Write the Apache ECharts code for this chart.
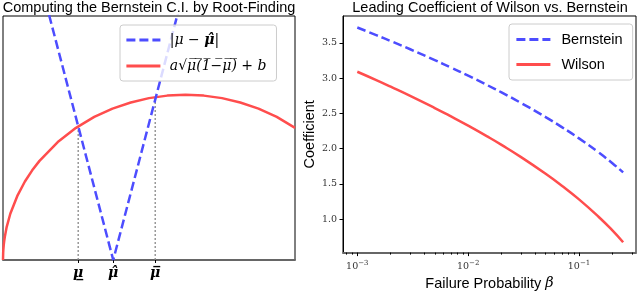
<!DOCTYPE html>
<html><head><meta charset="utf-8">
<script src="https://cdn.jsdelivr.net/npm/echarts@6/dist/echarts.min.js"></script>
<style>html,body{margin:0;padding:0;background:#fff}#c{width:638px;height:296px}</style>
</head><body><div id="c"></div>
<script>
// ---------- Left panel data ----------
const muGrid    = [0, 0.0005, 0.001, 0.002, 0.003, 0.005, 0.01, 0.02, 0.04, 0.06, 0.08, 0.1, 0.15, 0.2, 0.25, 0.3, 0.35, 0.4, 0.45, 0.5, 0.55, 0.6, 0.65, 0.7, 0.75, 0.8];
const rootCurve = [0, 0.0053, 0.0075, 0.0106, 0.0130, 0.0167, 0.0236, 0.0332, 0.0464, 0.0563, 0.0643, 0.0711, 0.0846, 0.0948, 0.1026, 0.1086, 0.1130, 0.1161, 0.1179, 0.1185, 0.1179, 0.1161, 0.1130, 0.1086, 0.1026, 0.0948];
const absMu  = [0, 0.302, 0.8];
const absVal = [0.302, 0, 0.498];
const boundValues  = [0.206, 0.302, 0.417];
const boundLabels  = ['\u03BC\u0332', '\u03BC\u0302', '\u03BC\u0305'];
const boundHeights = [0.0958, 0, 0.1165];

// ---------- Right panel data ----------
const beta      = [0.001, 0.0015, 0.002, 0.003, 0.005, 0.007, 0.01, 0.015, 0.02, 0.03, 0.05, 0.07, 0.1, 0.15, 0.2, 0.25];
const bernstein = [3.717, 3.606, 3.526, 3.409, 3.255, 3.150, 3.035, 2.898, 2.797, 2.648, 2.448, 2.306, 2.146, 1.948, 1.794, 1.665];
const wilson    = [3.090, 2.968, 2.878, 2.748, 2.576, 2.457, 2.326, 2.170, 2.054, 1.881, 1.645, 1.476, 1.282, 1.036, 0.842, 0.674];
const yTicks = [1.0, 1.5, 2.0, 2.5, 3.0, 3.5];
const xMajorExp = [-3, -2, -1];
const xMinorMult = [2, 3, 4, 5, 6, 7, 8, 9];

const BLUE = 'rgb(77,77,255)', RED = 'rgb(255,77,77)';
const SANS = 'Liberation Sans', SERIF = 'DejaVu Serif';
const xMin = -3.129, xMax = -0.486;
const minorTicks = [];
[-4, -3, -2, -1].forEach(e => xMinorMult.forEach(m => {
  const v = Math.log10(m * Math.pow(10, e));
  if (v > xMin && v < xMax) minorTicks.push(v);
}));

const chart = echarts.init(document.getElementById('c'), null, {renderer: 'canvas'});
const sup = {'-3': '\u22123', '-2': '\u22122', '-1': '\u22121'};
const OL = '\u0305';
const sqrtBody = ['\u03BC', '(', '1', '\u2212', '\u03BC', ')'].map(c => c + OL).join('');

chart.setOption({
  animation: false,
  title: [
    {text: 'Computing the Bernstein C.I. by Root-Finding', left: 149, top: 0, padding: 0, textAlign: 'center',
     textStyle: {fontFamily: SANS, fontSize: 14.5, fontWeight: 'normal', color: '#000'}},
    {text: 'Leading Coefficient of Wilson vs. Bernstein', left: 490, top: 0, padding: 0, textAlign: 'center',
     textStyle: {fontFamily: SANS, fontSize: 14.5, fontWeight: 'normal', color: '#000'}}
  ],
  grid: [
    {left: 3, top: 16, width: 292, height: 244, show: true, borderColor: '#000', borderWidth: 1},
    {left: 343, top: 16, width: 293, height: 244, show: true, borderColor: '#000', borderWidth: 1}
  ],
  legend: [
    {orient: 'vertical', left: 120, top: 25, padding: [8, 10, 8, 5], itemWidth: 34, itemHeight: 12, itemGap: 12,
     backgroundColor: 'rgba(255,255,255,0.8)', borderColor: '#ccc', borderWidth: 1, borderRadius: 3,
     itemStyle: {opacity: 0}, lineStyle: {width: 2.8},
     data: ['absdiff', 'root'],
     formatter: n => n === 'absdiff' ? '{i| |\u03BC \u2212 }{b|\u03BC\u0302}{i||}' : '{i| a\u221A' + sqrtBody + ' + b}',
     textStyle: {color: '#000', rich: {
       i: {fontFamily: SERIF, fontStyle: 'italic', fontSize: 14, color: '#000'},
       b: {fontFamily: SERIF, fontStyle: 'italic', fontWeight: 'bold', fontSize: 14, color: '#000'}}}},
    {orient: 'vertical', left: 509, top: 24, padding: [8, 10, 8, 6], itemWidth: 34, itemHeight: 12, itemGap: 10,
     backgroundColor: 'rgba(255,255,255,0.8)', borderColor: '#ccc', borderWidth: 1, borderRadius: 3,
     itemStyle: {opacity: 0}, lineStyle: {width: 2.8},
     data: ['Bernstein', 'Wilson'],
     textStyle: {fontFamily: SANS, fontSize: 14.5, color: '#000', padding: [0, 0, 0, 6]}}
  ],
  xAxis: [
    {gridIndex: 0, type: 'value', min: 0, max: 0.8, splitLine: {show: false},
     axisLine: {onZero: false, lineStyle: {color: '#666', width: 2}},
     axisTick: {customValues: boundValues, length: 3, lineStyle: {color: '#000'}},
     axisLabel: {customValues: boundValues, margin: 6,
       formatter: v => { const i = boundValues.findIndex(b => Math.abs(b - v) < 1e-6); return i < 0 ? '' : boundLabels[i]; },
       fontFamily: SERIF, fontStyle: 'italic', fontWeight: 'bold', fontSize: 14, color: '#000'}},
    {gridIndex: 1, type: 'value', min: xMin, max: xMax, splitLine: {show: false}, position: 'bottom',
     name: 'Failure Probability {b|\u03B2}', nameLocation: 'middle', nameGap: 19,
     nameTextStyle: {fontFamily: SANS, fontSize: 14.5, color: '#000',
       rich: {b: {fontFamily: SERIF, fontStyle: 'italic', fontSize: 14.5, color: '#000'}}},
     axisLine: {onZero: false, lineStyle: {color: '#666', width: 2}},
     axisTick: {customValues: xMajorExp, length: 3.5, lineStyle: {color: '#000'}},
     axisLabel: {customValues: xMajorExp, margin: 7,
       formatter: v => '{n|10}{s|' + sup[String(Math.round(v))] + '}',
       rich: {n: {fontFamily: SERIF, fontSize: 9.5, color: '#333'},
              s: {fontFamily: SERIF, fontSize: 7, color: '#333', padding: [0, 0, 6, 0]}}}},
    {gridIndex: 1, type: 'value', min: xMin, max: xMax, splitLine: {show: false}, position: 'bottom',
     axisLine: {show: false, onZero: false},
     axisTick: {customValues: minorTicks, length: 2, lineStyle: {color: '#000'}},
     axisLabel: {show: false}}
  ],
  yAxis: [
    {gridIndex: 0, type: 'value', min: 0, max: 0.175, splitLine: {show: false},
     axisLine: {show: false}, axisTick: {show: false}, axisLabel: {show: false}},
    {gridIndex: 1, type: 'value', min: 0.528, max: 3.88, splitLine: {show: false},
     name: 'Coefficient', nameLocation: 'middle', nameGap: 25,
     nameTextStyle: {fontFamily: SANS, fontSize: 14.5, color: '#000'},
     axisLine: {show: true, lineStyle: {color: '#000', width: 1}},
     axisTick: {customValues: yTicks, length: 3.5, lineStyle: {color: '#000'}},
     axisLabel: {customValues: yTicks, margin: 6, formatter: v => v.toFixed(1),
       fontFamily: SERIF, fontSize: 9.5, color: '#333'}}
  ],
  series: [
    {name: 'root', type: 'line', xAxisIndex: 0, yAxisIndex: 0, symbol: 'none', smooth: false,
     lineStyle: {color: RED, width: 2.5}, itemStyle: {color: RED},
     data: muGrid.map((m, i) => [m, rootCurve[i]])},
    {name: 'absdiff', type: 'line', xAxisIndex: 0, yAxisIndex: 0, symbol: 'none',
     lineStyle: {color: BLUE, width: 2.5, type: [9, 4]}, itemStyle: {color: BLUE},
     data: absMu.map((m, i) => [m, absVal[i]])},
    ...[0, 2].map(i => ({name: 'bound' + i, type: 'line', xAxisIndex: 0, yAxisIndex: 0, symbol: 'none', z: 1,
     lineStyle: {color: '#888', width: 1.3, type: [2, 2]},
     data: [[boundValues[i], 0], [boundValues[i], boundHeights[i]]]})),
    {name: 'Bernstein', type: 'line', xAxisIndex: 1, yAxisIndex: 1, symbol: 'none', smooth: true,
     lineStyle: {color: BLUE, width: 2.5, type: [9, 4]}, itemStyle: {color: BLUE},
     data: beta.map((b, i) => [Math.log10(b), bernstein[i]])},
    {name: 'Wilson', type: 'line', xAxisIndex: 1, yAxisIndex: 1, symbol: 'none', smooth: true,
     lineStyle: {color: RED, width: 2.5}, itemStyle: {color: RED},
     data: beta.map((b, i) => [Math.log10(b), wilson[i]])}
  ]
});
</script></body></html>
